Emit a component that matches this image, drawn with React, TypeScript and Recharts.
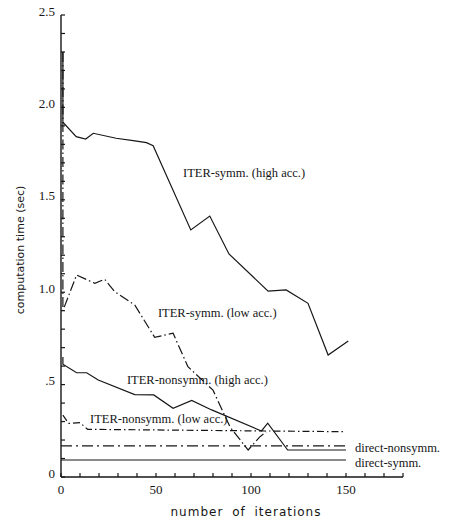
import { LineChart, Line, XAxis, YAxis, ReferenceDot } from 'recharts';

// ITER-symm (high acc.) : solid
const symmHighIter = [1, 1, 8, 13, 17, 29, 38, 45, 48.5, 68.3, 78.3, 88.4, 109, 118.5, 130, 140.6, 151.2];
const symmHighTime = [2.3, 1.92, 1.842, 1.829, 1.86, 1.833, 1.82, 1.809, 1.793, 1.337, 1.412, 1.207, 1.006, 1.012, 0.94, 0.66, 0.736];

// ITER-symm (low acc.) : dash-dot
const symmLowIter = [1, 1, 8.2, 17.8, 23, 28.3, 38.8, 49.3, 59, 66.8, 80, 89, 98.5, 104.5, 108];
const symmLowTime = [2.3, 0.9, 1.093, 1.048, 1.07, 1.003, 0.931, 0.756, 0.778, 0.597, 0.47, 0.27, 0.146, 0.216, 0.245];

// ITER-nonsymm (high acc.) : solid
const nonsymmHighIter = [1, 1, 8.2, 13.5, 19.6, 38.8, 48.8, 59, 68.8, 79.3, 105.5, 108.8, 119.3, 150];
const nonsymmHighTime = [0.65, 0.61, 0.564, 0.564, 0.525, 0.446, 0.444, 0.372, 0.414, 0.363, 0.249, 0.291, 0.146, 0.146];

// ITER-nonsymm (low acc.) : dash-dot
const nonsymmLowIter = [1, 4, 10, 14, 150];
const nonsymmLowTime = [0.335, 0.29, 0.294, 0.258, 0.245];

// direct solvers : flat
const directIter = [0, 150];
const directNonsymmTime = [0.168, 0.168];
const directSymmTime = [0.092, 0.092];

const xTicks = Array.from({ length: 19 }, (_, i) => i * 10);
const xLabelValues = [0, 50, 100, 150];
const yTicks = Array.from({ length: 26 }, (_, i) => i / 10);
const yLabelValues = [0, 0.5, 1, 1.5, 2, 2.5];
const yLabelTexts = ['0', '.5', '1.0', '1.5', '2.0', '2.5'];

const notes = [
  { text: 'ITER-symm. (high acc.)', it: 64.2, t: 1.645 },
  { text: 'ITER-symm. (low acc.)', it: 51, t: 0.887 },
  { text: 'ITER-nonsymm. (high acc.)', it: 34.7, t: 0.525 },
  { text: 'ITER-nonsymm. (low acc.)', it: 15.3, t: 0.314 },
  { text: 'direct-nonsymm.', it: 154.7, t: 0.157 },
  { text: 'direct-symm.', it: 154.7, t: 0.076 },
];

const toRows = (its: number[], ts: number[]) => its.map((it, i) => ({ it, t: ts[i] }));

const INK = '#161616';
const SERIF = '"Liberation Serif", "Times New Roman", serif';
const SANS = '"DejaVu Sans", sans-serif';

function XTick({ x, y, payload }: any) {
  const show = xLabelValues.includes(payload.value);
  return (
    <g>
      <line x1={x} x2={x} y1={y} y2={y - 4} stroke={INK} strokeWidth={1.2} />
      {show && (
        <text x={x} y={y + 12} textAnchor="middle" dominantBaseline="central" fontFamily={SERIF} fontSize={13} fill={INK}>
          {payload.value}
        </text>
      )}
    </g>
  );
}

function YTick({ x, y, payload }: any) {
  const idx = yLabelValues.findIndex(v => Math.abs(v - payload.value) < 1e-6);
  return (
    <g>
      <line x1={x} x2={x + 4} y1={y} y2={y} stroke={INK} strokeWidth={1.2} />
      {idx >= 0 && (
        <text x={x - 6} y={y - 4} textAnchor="end" dominantBaseline="central" fontFamily={SERIF} fontSize={13} fill={INK}>
          {yLabelTexts[idx]}
        </text>
      )}
    </g>
  );
}

export default function App() {
  return (
    <div style={{ position: 'absolute', left: 0, top: 0, width: 460, height: 520, background: '#fff' }}>
      <LineChart width={460} height={520} margin={{ top: 15, right: 57, bottom: 13, left: 21 }}>
        <XAxis
          dataKey="it"
          type="number"
          domain={[0, 180]}
          ticks={xTicks}
          interval={0}
          height={30}
          tickSize={0}
          tickMargin={0}
          tick={<XTick />}
          axisLine={{ stroke: INK, strokeWidth: 1.4 }}
        />
        <YAxis
          type="number"
          domain={[0, 2.5]}
          ticks={yTicks}
          interval={0}
          width={40}
          tickSize={0}
          tickMargin={0}
          tick={<YTick />}
          axisLine={{ stroke: INK, strokeWidth: 1.4 }}
        />
        <Line data={toRows(symmHighIter, symmHighTime)} dataKey="t" type="linear" stroke={INK} strokeWidth={1.2} dot={false} isAnimationActive={false} />
        <Line data={toRows(symmLowIter, symmLowTime)} dataKey="t" type="linear" stroke={INK} strokeWidth={1.2} strokeDasharray="10 3 1.5 3" dot={false} isAnimationActive={false} />
        <Line data={toRows(nonsymmHighIter, nonsymmHighTime)} dataKey="t" type="linear" stroke={INK} strokeWidth={1.2} dot={false} isAnimationActive={false} />
        <Line data={toRows(nonsymmLowIter, nonsymmLowTime)} dataKey="t" type="linear" stroke={INK} strokeWidth={1.2} strokeDasharray="7 3 1.5 3" dot={false} isAnimationActive={false} />
        <Line data={toRows(directIter, directNonsymmTime)} dataKey="t" type="linear" stroke={INK} strokeWidth={1.2} strokeDasharray="11 4 2 4" dot={false} isAnimationActive={false} />
        <Line data={toRows(directIter, directSymmTime)} dataKey="t" type="linear" stroke={INK} strokeWidth={1.2} dot={false} isAnimationActive={false} />
        {notes.map(n => (
          <ReferenceDot
            key={n.text}
            x={n.it}
            y={n.t}
            r={0}
            fill="none"
            stroke="none"
            ifOverflow="visible"
            label={{
              content: (p: any) => (
                <text x={p.viewBox.x} y={p.viewBox.y} dominantBaseline="central" fontFamily={SERIF} fontSize={12.5} fill={INK}>
                  {n.text}
                </text>
              ),
            }}
          />
        ))}
        <text x={20} y={250} transform="rotate(-90 20 250)" textAnchor="middle" dominantBaseline="central" fontFamily={SANS} fontSize={11} fill={INK}>
          computation time (sec)
        </text>
        <text x={246} y={512} textAnchor="middle" dominantBaseline="central" fontFamily={SANS} fontSize={12} letterSpacing={1} wordSpacing={4} fill={INK}>
          number of iterations
        </text>
      </LineChart>
    </div>
  );
}
